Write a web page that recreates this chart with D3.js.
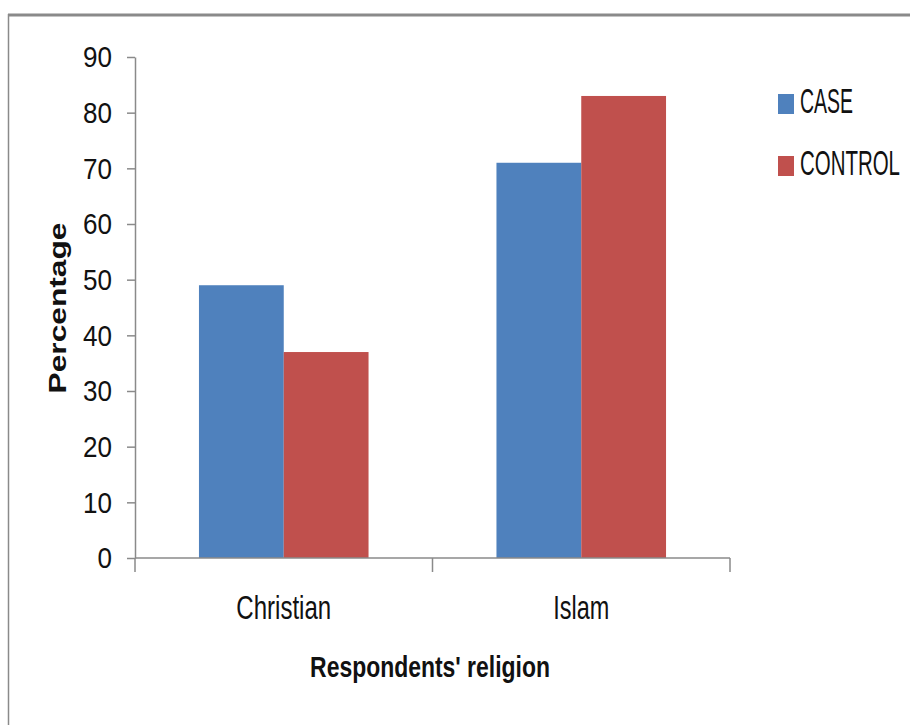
<!DOCTYPE html>
<html>
<head>
<meta charset="utf-8">
<script src="https://cdn.jsdelivr.net/npm/d3@7"></script>
<style>
  html, body { margin: 0; padding: 0; background: #fff; }
  svg { display: block; }
  text { font-family: "Liberation Sans", Arial, sans-serif; fill: #111; }
</style>
</head>
<body>
<svg id="chart" width="910" height="725"></svg>
<script>
// Religion of respondents, percentage by group
const categories = ["Christian", "Islam"];
const seriesNames = ["CASE", "CONTROL"];
const caseValues = [49, 71];
const controlValues = [37, 83];
const yTicks = [0, 10, 20, 30, 40, 50, 60, 70, 80, 90];
const colors = ["#4F81BD", "#C0504D"];

const svg = d3.select("#chart");
const plot = { left: 135, right: 730, top: 57, bottom: 558 };

// Places a text at (x, y) and squeezes it horizontally to the given width,
// giving the tall, narrow lettering of the chart.
function narrowText(parent, str, x, y, width, size, opts = {}) {
  const g = parent.append("g").attr("transform", `translate(${x},${y})${opts.rotate ? ` rotate(${opts.rotate})` : ""}`);
  const t = g.append("text")
    .attr("font-size", size)
    .attr("font-weight", opts.bold ? "bold" : "normal")
    .attr("text-anchor", opts.anchor || "start")
    .attr("dy", opts.dy || 0)
    .text(str);
  const natural = t.node().getComputedTextLength();
  t.attr("transform", `scale(${width / natural},1)`);
  return g;
}

// frame of the figure
svg.append("line").attr("x1", 8).attr("x2", 910).attr("y1", 15).attr("y2", 15)
  .attr("stroke", "#8a8a8a").attr("stroke-width", 3);
svg.append("line").attr("x1", 8.5).attr("x2", 8.5).attr("y1", 14).attr("y2", 725)
  .attr("stroke", "#8a8a8a").attr("stroke-width", 1.5);

const x0 = d3.scaleBand().domain(categories).range([plot.left, plot.right])
  .paddingInner(0.43).paddingOuter(0.215);
const x1 = d3.scaleBand().domain(seriesNames).range([0, x0.bandwidth()]);
const y = d3.scaleLinear().domain([0, 90]).range([plot.bottom, plot.top]);

const rows = categories.map((c, i) => ({ cat: c, vals: [caseValues[i], controlValues[i]] }));

// bars
const groups = svg.append("g").selectAll("g").data(rows).join("g")
  .attr("transform", d => `translate(${x0(d.cat)},0)`);
groups.selectAll("rect")
  .data(d => d.vals.map((v, j) => ({ name: seriesNames[j], v, j })))
  .join("rect")
  .attr("x", d => x1(d.name))
  .attr("width", x1.bandwidth())
  .attr("y", d => y(d.v))
  .attr("height", d => y(0) - y(d.v))
  .attr("fill", d => colors[d.j]);

// y axis: line and ticks from d3, labels squeezed to the narrow style
const yAxis = svg.append("g").attr("transform", `translate(${plot.left},0)`)
  .call(d3.axisLeft(y).tickValues(yTicks).tickSize(8).tickSizeOuter(0).tickFormat(""));
yAxis.select(".domain").attr("stroke", "#8a8a8a").attr("stroke-width", 1.5);
yAxis.selectAll(".tick line").attr("stroke", "#8a8a8a").attr("stroke-width", 1.5);
const yLabels = svg.append("g");
yTicks.forEach(v => {
  narrowText(yLabels, String(v), plot.left - 23, y(v), String(v).length * 14.5, 29,
    { anchor: "end", dy: "0.36em" });
});

// x axis with category boundary ticks
const xAxisG = svg.append("g");
xAxisG.append("line").attr("x1", plot.left).attr("x2", plot.right)
  .attr("y1", plot.bottom).attr("y2", plot.bottom)
  .attr("stroke", "#8a8a8a").attr("stroke-width", 1.5);
const step = (plot.right - plot.left) / categories.length;
const bounds = d3.range(categories.length + 1).map(i => plot.left + i * step);
xAxisG.selectAll("line.b").data(bounds).join("line").attr("class", "b")
  .attr("x1", d => d).attr("x2", d => d)
  .attr("y1", plot.bottom).attr("y2", plot.bottom + 14)
  .attr("stroke", "#8a8a8a").attr("stroke-width", 1.5);

const catWidths = { "Christian": 95, "Islam": 56 };
const xLabels = svg.append("g");
categories.forEach(c => {
  narrowText(xLabels, c, x0(c) + x0.bandwidth() / 2, 619, catWidths[c], 33, { anchor: "middle" });
});

// axis titles
narrowText(svg, "Respondents' religion", 430, 677, 240, 30, { anchor: "middle", bold: true });
narrowText(svg, "Percentage", 66, 308, 171, 23, { anchor: "middle", bold: true, rotate: -90 });

// legend
const legendWidths = [53, 100];
const legend = svg.append("g");
seriesNames.forEach((name, i) => {
  const top = i === 0 ? 94 : 156;
  legend.append("rect").attr("x", 778).attr("y", top).attr("width", 16).attr("height", 20)
    .attr("fill", colors[i]);
  narrowText(legend, name, 800, top + 19, legendWidths[i], 35);
});
</script>
</body>
</html>
